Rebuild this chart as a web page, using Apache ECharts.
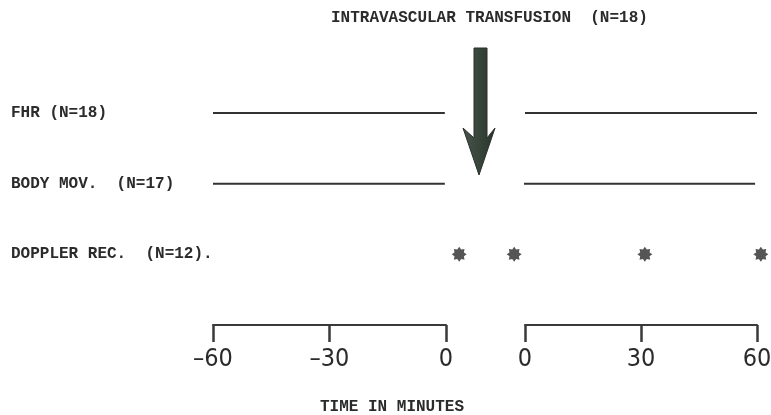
<!DOCTYPE html>
<html><head><meta charset="utf-8">
<script src="https://cdn.jsdelivr.net/npm/echarts@6/dist/echarts.min.js"></script>
<style>html,body{margin:0;padding:0;background:#fff}#c{width:771px;height:415px}</style>
</head><body><div id="c"></div>
<script>
// ---- data ----
var rowCategories = ['', 'DOPPLER REC.  (N=12).', 'BODY MOV.  (N=17)', 'FHR (N=18)'];
var leftTicks = {'-60': '\u201360', '-30': '\u201330', '0': '0'};
var rightTicks = {'0': '0', '30': '30', '60': '60'};
var fhrPre = [[-60, 'FHR (N=18)'], [-0.3, 'FHR (N=18)']];
var fhrPost = [[0, 'FHR (N=18)'], [60, 'FHR (N=18)']];
var bodyPre = [[-60, 'BODY MOV.  (N=17)'], [-0.3, 'BODY MOV.  (N=17)']];
var bodyPost = [[-0.8, 'BODY MOV.  (N=17)'], [59.5, 'BODY MOV.  (N=17)']];
var dopplerPre = [[3.4, 'DOPPLER REC.  (N=12).']];
var dopplerPost = [[-2.8, 'DOPPLER REC.  (N=12).'], [31, 'DOPPLER REC.  (N=12).'], [61, 'DOPPLER REC.  (N=12).']];
var titleText = 'INTRAVASCULAR TRANSFUSION  (N=18)';
var xTitle = 'TIME IN MINUTES';

function starPath(n, r1, r2) {
  var s = 'path://';
  for (var i = 0; i < 2 * n; i++) {
    var r = i % 2 ? r2 : r1;
    var a = Math.PI * i / n - Math.PI / 2;
    s += (i ? 'L' : 'M') + (50 + r * Math.cos(a)).toFixed(2) + ' ' + (50 + r * Math.sin(a)).toFixed(2);
  }
  return s + 'Z';
}
var star = starPath(8, 50, 34);

var mono = "'Liberation Mono', 'DejaVu Sans Mono', monospace";
var narrow = "'Liberation Sans Narrow', 'DejaVu Sans Condensed', 'Liberation Sans', sans-serif";
var ink = '#2b2b2b';

function xAxisDef(idx, min, max, map) {
  return {
    gridIndex: idx, type: 'value', min: min, max: max, interval: 30,
    axisLine: {show: true, lineStyle: {color: '#3a3a3a', width: 2}},
    axisTick: {show: true, length: 17, lineStyle: {color: '#3a3a3a', width: 2.5}},
    axisLabel: {fontFamily: narrow, fontSize: 25, color: ink, margin: 22,
      formatter: function (v) { return map[String(v)]; }},
    splitLine: {show: false}
  };
}
function yAxisDef(idx, showLabel) {
  return {
    gridIndex: idx, type: 'category', data: rowCategories, boundaryGap: false,
    axisLine: {show: false}, axisTick: {show: false}, splitLine: {show: false},
    axisLabel: {show: showLabel, align: 'left', margin: 202, fontFamily: mono,
      fontWeight: 'bold', fontSize: 16, color: ink}
  };
}
function lineSeries(xi, data) {
  return {type: 'line', xAxisIndex: xi, yAxisIndex: xi, data: data, symbol: 'none',
    lineStyle: {color: '#333', width: 2}, silent: true};
}
function starSeries(xi, data) {
  return {type: 'scatter', xAxisIndex: xi, yAxisIndex: xi, data: data, symbol: star,
    symbolSize: 15, itemStyle: {color: '#2a2a2a'}, clip: false, silent: true};
}

var chart = echarts.init(document.getElementById('c'), null, {renderer: 'canvas'});
chart.setOption({
  animation: false,
  backgroundColor: '#fff',
  title: [
    {text: titleText, left: 326, top: 5, textStyle: {fontFamily: mono, fontWeight: 'bold', fontSize: 16, color: ink}},
    {text: xTitle, left: 315, top: 394, textStyle: {fontFamily: mono, fontWeight: 'bold', fontSize: 16, color: ink}}
  ],
  grid: [
    {left: 213, width: 233, top: 113, bottom: 90, outerBoundsMode: 'none', containLabel: false},
    {left: 525, width: 232, top: 113, bottom: 90, outerBoundsMode: 'none', containLabel: false}
  ],
  xAxis: [xAxisDef(0, -60, 0, leftTicks), xAxisDef(1, 0, 60, rightTicks)],
  yAxis: [yAxisDef(0, true), yAxisDef(1, false)],
  series: [
    lineSeries(0, fhrPre), lineSeries(1, fhrPost),
    lineSeries(0, bodyPre), lineSeries(1, bodyPost),
    starSeries(0, dopplerPre), starSeries(1, dopplerPost)
  ],
  graphic: [{
    type: 'polygon',
    shape: {points: [[474, 48], [487, 48], [487, 138], [495, 128], [479, 175], [463, 128], [474, 138]]},
    style: {
      fill: {type: 'linear', x: 0, y: 0, x2: 1, y2: 0, colorStops: [
        {offset: 0, color: '#4a554c'}, {offset: 1, color: '#26352a'}]},
      stroke: '#2a2f2b', lineWidth: 1
    }
  }]
});
</script>
</body></html>
